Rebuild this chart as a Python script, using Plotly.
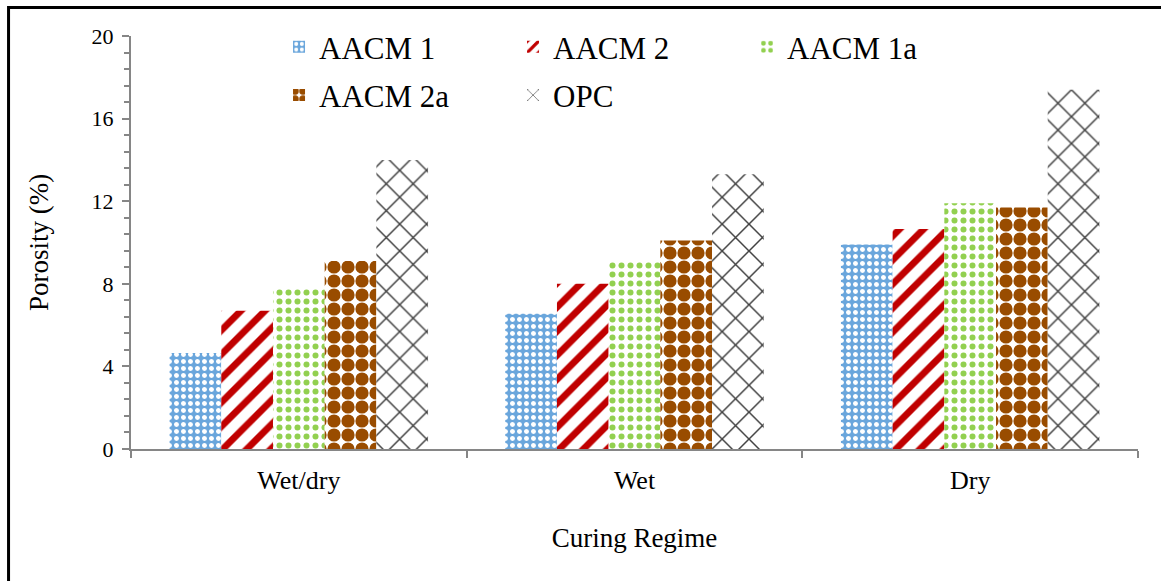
import plotly.graph_objects as go

categories = ["Wet/dry", "Wet", "Dry"]
series_names = ["AACM 1", "AACM 2", "AACM 1a", "AACM 2a", "OPC"]
aacm1 = [4.65, 6.55, 9.9]
aacm2 = [6.7, 8.0, 10.65]
aacm1a = [7.75, 9.05, 11.9]
aacm2a = [9.1, 10.1, 11.7]
opc = [14.0, 13.3, 17.4]
y_ticks = [0, 4, 8, 12, 16, 20]

values = [aacm1, aacm2, aacm1a, aacm2a, opc]
legend_ids = ["legend", "legend", "legend", "legend2", "legend2"]
patterns = [
    dict(shape=".", bgcolor="#6AA6DC", fgcolor="white", size=7, solidity=0.4),
    dict(shape="/", bgcolor="white", fgcolor="#C00000", size=17, solidity=0.4),
    dict(shape=".", bgcolor="white", fgcolor="#92D050", size=9, solidity=0.35),
    dict(shape=".", bgcolor="white", fgcolor="#994C00", size=14, solidity=0.7),
    dict(shape="x", bgcolor="white", fgcolor="#404040", size=19, solidity=0.15),
]

FONT = "Liberation Serif, Times New Roman, serif"

fig = go.Figure()
for name, vals, pat, lg in zip(series_names, values, patterns, legend_ids):
    fig.add_trace(go.Bar(
        x=categories, y=vals, name=name, legend=lg,
        marker=dict(color=pat["bgcolor"], line=dict(width=0),
                    pattern=dict(fillmode="replace", fgopacity=1, **pat)),
    ))

legend_common = dict(
    orientation="h", xanchor="left", yanchor="middle",
    font=dict(family=FONT, size=31, color="black"),
    entrywidth=189, entrywidthmode="pixels",
    bgcolor="rgba(0,0,0,0)",
)

fig.update_layout(
    width=1161, height=581,
    margin=dict(l=131, r=23, t=36, b=132),
    paper_bgcolor="white", plot_bgcolor="white",
    barmode="group", bargap=0.23, bargroupgap=0,
    font=dict(family=FONT, color="black", size=22),
    showlegend=True,
    legend=dict(x=0.147, y=0.973, **legend_common),
    legend2=dict(x=0.147, y=0.856, **legend_common),
    xaxis=dict(
        title=dict(text="Curing Regime", font=dict(size=27), standoff=34),
        showline=True, linecolor="#868686", linewidth=2,
        ticks="outside", tickson="boundaries", ticklen=7, tickcolor="#868686", tickwidth=2,
        tickfont=dict(size=26), ticklabelstandoff=7, showgrid=False,
    ),
    yaxis=dict(
        title=dict(text="Porosity (%)", font=dict(size=27), standoff=35),
        range=[0, 20], tickvals=y_ticks, ticktext=[str(v) for v in y_ticks],
        showline=True, linecolor="#868686", linewidth=2,
        ticks="outside", ticklen=7, tickcolor="#868686", tickwidth=2,
        ticklabelstandoff=4,
        minor=dict(dtick=0.8, ticks="outside", ticklen=5, tickcolor="#868686", tickwidth=2, showgrid=False),
        tickfont=dict(size=22), showgrid=False, zeroline=False,
    ),
    shapes=[dict(
        type="rect", xref="paper", yref="paper",
        x0=-0.1216, x1=1.05, y0=-0.5, y1=1.069,
        line=dict(color="black", width=3), fillcolor="rgba(0,0,0,0)", layer="above",
    )],
)

fig.write_html("out.html")
